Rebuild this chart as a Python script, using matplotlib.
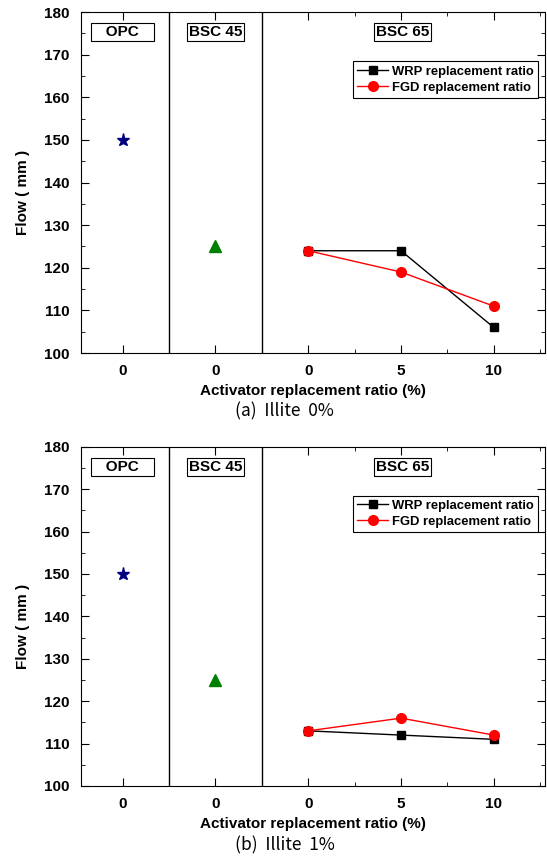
import matplotlib.pyplot as plt
from matplotlib.ticker import MultipleLocator

# flow values (mm)
opc_flow = [150, 150]
bsc45_flow = [125, 125]
wrp_flow = [[124, 124, 106], [113, 112, 111]]
fgd_flow = [[124, 119, 111], [113, 116, 112]]
tick_labels = ['0', '0', '0', '5', '10']
groups = ['OPC', 'BSC 45', 'BSC 65']
captions = ['(a)  Illite  0%', '(b)  Illite  1%']

plt.rcParams['font.family'] = ['Liberation Sans', 'DejaVu Sans']

fig = plt.figure(figsize=(5.47, 8.59), dpi=100)
axes = [fig.add_axes([0.148, 0.589, 0.848, 0.397]),
        fig.add_axes([0.148, 0.085, 0.848, 0.395])]

bsc65_x = [2, 3, 4]
for i, ax in enumerate(axes):
    ax.plot(0, opc_flow[i], marker='*', color='navy', ms=9.5, ls='none')
    ax.plot(1, bsc45_flow[i], marker='^', color='green', ms=8, ls='none')
    ax.plot(bsc65_x, wrp_flow[i], color='black', marker='s', ms=6, lw=1,
            label='WRP replacement ratio')
    ax.plot(bsc65_x, fgd_flow[i], color='red', marker='o', ms=7, lw=1,
            label='FGD replacement ratio')

    for xs in (0.5, 1.5):
        ax.axvline(xs, color='black', lw=1)

    # group name boxes
    for gx, name in zip([0, 1, 3.02], groups):
        label = '   ' + name + '   ' if name == 'OPC' else name
        ax.text(gx, 175.3, label, ha='center', va='center', fontsize=11,
                fontweight='bold',
                bbox=dict(boxstyle='square,pad=0.13', fc='white', ec='black', lw=0.8))

    ax.set_xlim(-0.45, 4.55)
    ax.set_ylim(100, 180)
    ax.set_xticks(range(5))
    ax.set_xticklabels(tick_labels)
    ax.xaxis.set_minor_locator(MultipleLocator(0.5))
    ax.yaxis.set_major_locator(MultipleLocator(10))
    ax.yaxis.set_minor_locator(MultipleLocator(5))
    ax.tick_params(which='both', direction='in', top=True, right=True,
                   labelsize=11, pad=8)
    ax.tick_params(which='major', length=6)
    ax.tick_params(which='minor', length=3)
    for lab in ax.get_xticklabels() + ax.get_yticklabels():
        lab.set_fontweight('bold')
    ax.set_ylabel('Flow ( mm )', fontsize=11, fontweight='bold')
    ax.yaxis.set_label_coords(-0.11, 0.47)
    ax.set_xlabel('Activator replacement ratio (%)', fontsize=11,
                  fontweight='bold', labelpad=4)

    leg = ax.legend(loc='upper right', bbox_to_anchor=(0.985, 0.855),
                    prop={'size': 9.4, 'weight': 'bold'}, fancybox=False,
                    edgecolor='black', framealpha=1, borderpad=0.3,
                    handlelength=2.4, handletextpad=0.3, labelspacing=0.3,
                    borderaxespad=0)
    leg.get_frame().set_linewidth(0.8)

fig.text(0.52, 0.521, captions[0], ha='center', va='center', fontsize=12.5,
         family=['Noto Sans CJK KR', 'DejaVu Sans'])
fig.text(0.52, 0.016, captions[1], ha='center', va='center', fontsize=12.5,
         family=['Noto Sans CJK KR', 'DejaVu Sans'])

fig.savefig('out.png', dpi=100)
